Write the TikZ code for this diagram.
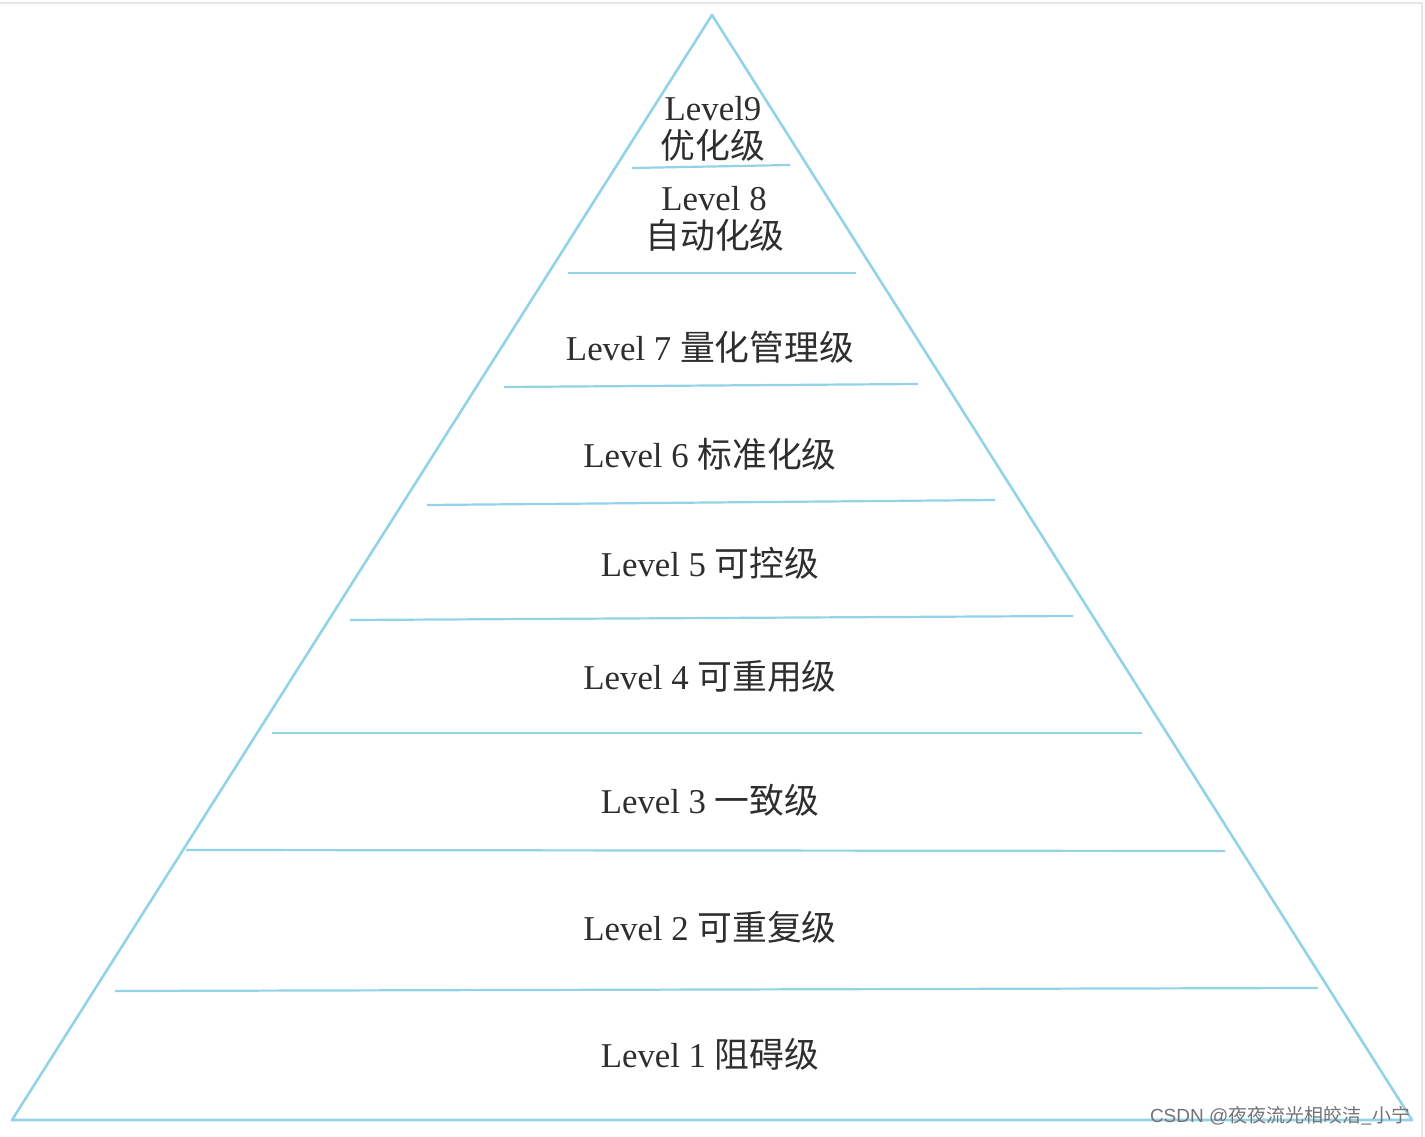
\documentclass[tikz,border=0pt]{standalone}
\usepackage{fontspec}
\setmainfont{Liberation Serif}
\newfontfamily\cjk{Noto Sans CJK SC}
\newfontfamily\wmfont{Liberation Sans}
\usetikzlibrary{positioning}
\definecolor{skyx}{HTML}{93D3E8}
\definecolor{framex}{HTML}{E6E6E6}
\tikzset{
  edge/.style={line width=2.6pt,skyx,line join=round},
  bar/.style={line width=2.2pt,skyx},
  lvl/.style={font=\fontsize{34.8}{38}\selectfont,text=black!82,inner sep=0pt}
}

\begin{document}
\begin{tikzpicture}[x=1pt,y=-1pt]
\useasboundingbox (0,0) rectangle (1425,1137);
\draw[framex,line width=1.5pt] (0,3)--(1422,3)--(1422,1137);
% pyramid outline
\coordinate (top) at (712,15);
\coordinate (bl) at (12,1120);
\coordinate (br) at (1412,1120);
\draw[edge] (top)--(br)--(bl)--cycle;
% level separators
\foreach \xa/\ya/\xb/\yb [count=\i] in {632/168/790/165,568/273/856/273,504/387/918/384,427/505/995/500,350/620/1073/616,272/733/1142/733,186/850/1225/851,115/991/1318/988}{
  \coordinate (s\i l) at (\xa,\ya);
  \coordinate (s\i r) at (\xb,\yb);
  \draw[bar] (s\i l)--(s\i r);
}
% labels
\node[lvl] (l9) at (713,109) {Level9};
\node[lvl] (l9c) at (713,145) {\cjk 优化级};
\node[lvl] (l8) at (714,199) {Level 8};
\node[lvl] (l8c) at (715,235) {\cjk 自动化级};
\node[lvl] (l7) at (710,347) {Level 7 {\cjk 量化管理级}};
\node[lvl] (l6) at (710,454) {Level 6 {\cjk 标准化级}};
\node[lvl] (l5) at (710,563) {Level 5 {\cjk 可控级}};
\node[lvl] (l4) at (710,676) {Level 4 {\cjk 可重用级}};
\node[lvl] (l3) at (710,800) {Level 3 {\cjk 一致级}};
\node[lvl] (l2) at (710,927) {Level 2 {\cjk 可重复级}};
\node[lvl] (l1) at (710,1054) {Level 1 {\cjk 阻碍级}};
\node[font=\wmfont\fontsize{19}{21}\selectfont,text=black!55,inner sep=0pt] (wm) at (1280,1116) {CSDN @{\cjk 夜夜流光相皎洁\_小宁}};
\end{tikzpicture}
\end{document}
